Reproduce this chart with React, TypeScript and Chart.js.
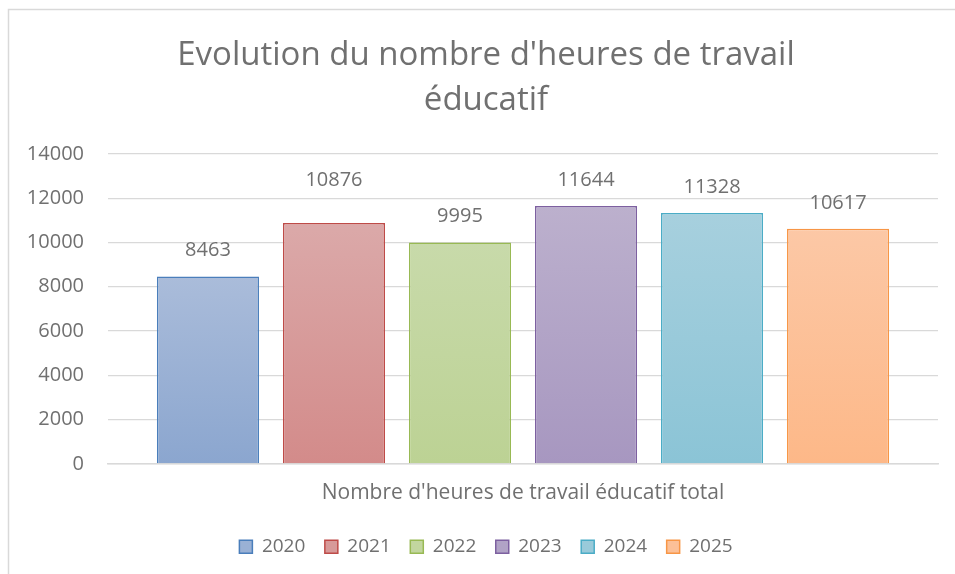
import React, { useEffect, useRef } from "react";
import { Chart, registerables } from "chart.js";

Chart.register(...registerables);

const categories = ["Nombre d'heures de travail éducatif total"];
const years = ["2020", "2021", "2022", "2023", "2024", "2025"];
const values = [8463, 10876, 9995, 11644, 11328, 10617];
const yTicks = [0, 2000, 4000, 6000, 8000, 10000, 12000, 14000];
const titleLines = ["Evolution du nombre d'heures de travail", "éducatif"];

const topColors = ["#aabcda", "#dba9a9", "#c8daaa", "#bcb0cd", "#a7d0de", "#fcc8a6"];
const bottomColors = ["#8ba6cf", "#d38b8a", "#bcd294", "#a797c0", "#8bc4d6", "#fdb888"];
const borderColors = ["#4a7ebb", "#be4b48", "#98b954", "#7d60a0", "#4bacc6", "#f79646"];
const midColors = ["#9ab1d5", "#d79a99", "#c2d69f", "#b1a3c6", "#99cada", "#fcc097"];

const FONT = "'Open Sans'";
const TEXT = "#707070";

export default function App() {
  const ref = useRef<HTMLCanvasElement | null>(null);

  useEffect(() => {
    if (!ref.current) return;

    const frame = {
      id: "frame",
      beforeDraw(chart: any) {
        const ctx = chart.ctx;
        ctx.save();
        ctx.fillStyle = "#ffffff";
        ctx.fillRect(0, 0, chart.width, chart.height);
        ctx.strokeStyle = "#d9d9d9";
        ctx.lineWidth = 1.5;
        ctx.beginPath();
        ctx.moveTo(8.5, chart.height + 2);
        ctx.lineTo(8.5, 9.5);
        ctx.lineTo(chart.width + 2, 9.5);
        ctx.stroke();
        ctx.restore();
      },
    };

    const boxShift = {
      id: "boxShift",
      afterLayout(chart: any) {
        if (chart.legend) {
          chart.legend.left += 13;
          chart.legend.right += 13;
        }
        if (chart.titleBlock) {
          chart.titleBlock.left += 13;
          chart.titleBlock.right += 13;
        }
      },
    };

    const labelExtra = [0, 17, 0, 0, 0, 0];
    const dataLabels = {
      id: "dataLabels",
      afterDatasetsDraw(chart: any) {
        const ctx = chart.ctx;
        ctx.save();
        ctx.font = `20px ${FONT}`;
        ctx.fillStyle = TEXT;
        ctx.textAlign = "center";
        ctx.textBaseline = "middle";
        chart.data.datasets.forEach((ds: any, i: number) => {
          const meta = chart.getDatasetMeta(i);
          meta.data.forEach((bar: any, j: number) => {
            ctx.fillText(String(ds.data[j]), bar.x, bar.y - 26 - labelExtra[i]);
          });
        });
        ctx.restore();
      },
    };

    const makeBg = (i: number) => (c: any) => {
      const chart = c.chart;
      const area = chart.chartArea;
      if (!area || c.parsed == null) return midColors[i];
      const yScale = chart.scales.y;
      const top = yScale.getPixelForValue(c.parsed.y);
      const bottom = yScale.getPixelForValue(0);
      const g = chart.ctx.createLinearGradient(0, top, 0, bottom);
      g.addColorStop(0, topColors[i]);
      g.addColorStop(1, bottomColors[i]);
      return g;
    };

    const chart = new Chart(ref.current, {
      type: "bar",
      data: {
        labels: categories,
        datasets: years.map((y, i) => ({
          label: y,
          data: [values[i]],
          backgroundColor: makeBg(i),
          borderColor: borderColors[i],
          borderWidth: 1.5,
          borderSkipped: "bottom",
          categoryPercentage: 0.911,
          barPercentage: 0.81,
        })),
      },
      options: {
        responsive: true,
        maintainAspectRatio: false,
        animation: false,
        layout: { padding: { left: 8, right: 17, top: 0, bottom: 7.7 } },
        plugins: {
          title: {
            display: true,
            text: titleLines,
            color: TEXT,
            font: { family: FONT, size: 33, weight: "normal", lineHeight: 1.36 },
            padding: { top: 33.6, bottom: 30.6 },
          },
          legend: {
            position: "bottom",
            labels: {
              boxWidth: 13,
              boxHeight: 13,
              padding: 19.5,
              color: TEXT,
              font: { family: FONT, size: 19 },
              generateLabels: () =>
                years.map((y, i) => ({
                  text: y,
                  fillStyle: midColors[i],
                  strokeStyle: borderColors[i],
                  lineWidth: 1.5,
                  datasetIndex: i,
                  hidden: false,
                  fontColor: TEXT,
                })),
            },
          },
          tooltip: { enabled: false },
        },
        scales: {
          x: {
            grid: { display: false, drawTicks: false },
            border: { display: true, color: "#d9d9d9", width: 1.5 },
            ticks: { color: TEXT, font: { family: FONT, size: 21 }, padding: 16.8 },
            afterFit: (s: any) => {
              s.height = 54;
            },
          },
          y: {
            min: 0,
            max: 14000,
            afterBuildTicks: (s: any) => {
              s.ticks = yTicks.map((v) => ({ value: v }));
            },
            grid: { color: "#d9d9d9", lineWidth: 1.2, drawTicks: false },
            border: { display: false },
            ticks: {
              color: TEXT,
              font: { family: FONT, size: 20 },
              padding: 24,
              callback: (v: any) => String(v),
            },
            afterFit: (s: any) => {
              s.width = 100;
            },
          },
        },
      },
      plugins: [frame, boxShift, dataLabels],
    });

    return () => chart.destroy();
  }, []);

  return (
    <div style={{ position: "absolute", left: 0, top: 0, width: 955, height: 574 }}>
      <canvas ref={ref} />
    </div>
  );
}
